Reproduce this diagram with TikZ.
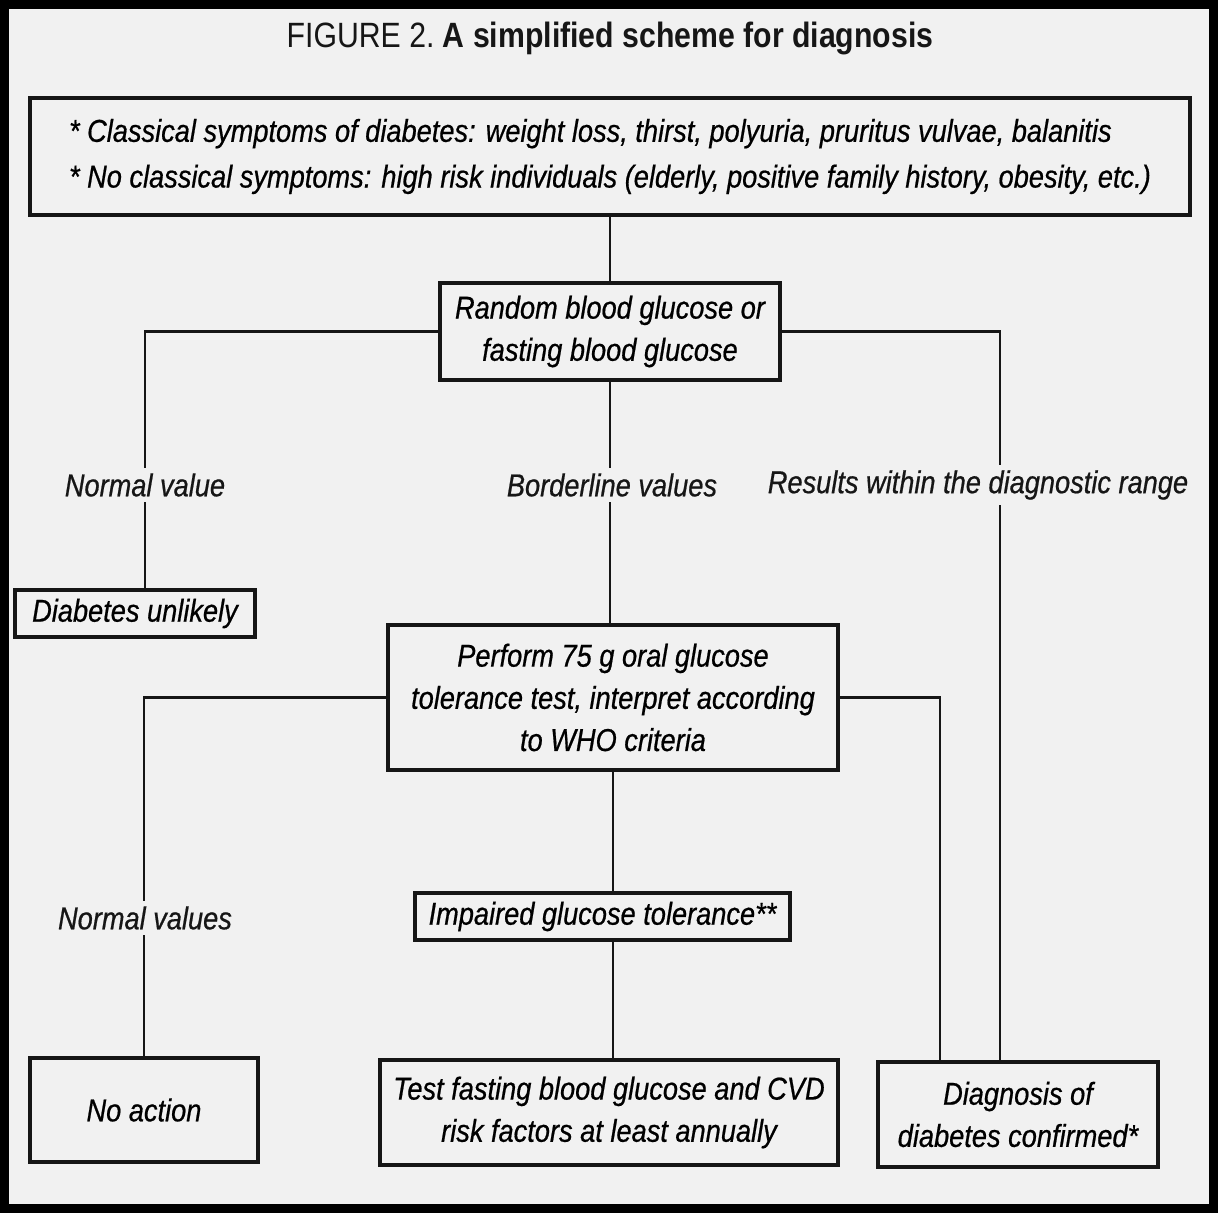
\documentclass[tikz,border=0pt]{standalone}
\usepackage{fontspec}
\setmainfont[FakeStretch=0.86, ItalicFeatures={FakeBold=0.6}]{Liberation Sans}
\usetikzlibrary{positioning,calc}
\definecolor{paper}{RGB}{241,241,241}
\definecolor{ink}{RGB}{22,22,22}
\newcommand{\boxfont}{\fontsize{18}{24}\selectfont\itshape}
\tikzset{
  stepbox/.style={draw=ink, line width=2.3pt, fill=paper, align=center, inner sep=0pt, font=\boxfont},
  link/.style={draw=ink, line width=1.4pt},
  branchlbl/.style={fill=paper, text=ink, font=\boxfont, inner sep=3pt},
}

\begin{document}
\begin{tikzpicture}
  % page and frame
  \fill[paper] (0,0) rectangle (24.36,-24.26);
  \useasboundingbox (0,0) rectangle (24.36,-24.26);
  \draw[black, line width=0.2cm] (0.08,-0.08) rectangle (24.28,-24.18);
  % title
  \node[text=ink, font=\fontsize{20}{24}\selectfont] (title) at (12.2,-0.76)
       {FIGURE 2.\ \textbf{A simplified scheme for diagnosis}};
  % boxes
  \node[stepbox, minimum width=23.2cm, minimum height=2.34cm, align=left] (who) at (12.2,-3.13)
       {*~Classical symptoms of diabetes: weight loss, thirst, polyuria, pruritus vulvae, balanitis\\[2pt]
        *~No classical symptoms: high risk individuals (elderly, positive family history, obesity, etc.)};
  \node[stepbox, minimum width=6.8cm, minimum height=1.94cm] (random) at (12.2,-6.63)
       {Random blood glucose or\\fasting blood glucose};
  \node[stepbox, minimum width=4.8cm, minimum height=0.94cm] (unlikely) at (2.7,-12.27)
       {Diabetes unlikely};
  \node[stepbox, minimum width=9.0cm, minimum height=2.9cm] (ogtt) at (12.26,-13.95)
       {Perform 75 g oral glucose\\tolerance test, interpret according\\to WHO criteria};
  \node[stepbox, minimum width=7.5cm, minimum height=0.94cm] (igt) at (12.05,-18.33)
       {Impaired glucose tolerance**};
  \node[stepbox, minimum width=4.56cm, minimum height=2.08cm] (noaction) at (2.88,-22.2)
       {No action};
  \node[stepbox, minimum width=9.16cm, minimum height=2.1cm] (annual) at (12.18,-22.25)
       {Test fasting blood glucose and CVD\\risk factors at least annually};
  \node[stepbox, minimum width=5.6cm, minimum height=2.1cm] (confirmed) at (20.36,-22.29)
       {Diagnosis of\\diabetes confirmed*};
  % connectors
  \draw[link] (who.south -| random.north) -- (random.north);
  \draw[link] (random.west) -| ([xshift=2mm]unlikely.north);
  \draw[link] (random.east) -| ([xshift=-3.6mm]confirmed.north);
  \draw[link] (random.south) -- (random.south |- ogtt.north);
  \draw[link] (ogtt.west) -| (noaction.north);
  \draw[link] (ogtt.east) -| ([xshift=-15.6mm]confirmed.north);
  \draw[link] (ogtt.south) -- (ogtt.south |- igt.north);
  \draw[link] (igt.south -| ogtt.south) -- (annual.north -| ogtt.south);
  % branch labels
  \node[branchlbl] (normal1) at (2.9,-9.7) {Normal value};
  \node[branchlbl] (border) at (12.24,-9.7) {Borderline values};
  \node[branchlbl] (diagrange) at (19.56,-9.7) {Results within the diagnostic range};
  \node[branchlbl] (normal2) at (2.9,-18.36) {Normal values};
\end{tikzpicture}
\end{document}
